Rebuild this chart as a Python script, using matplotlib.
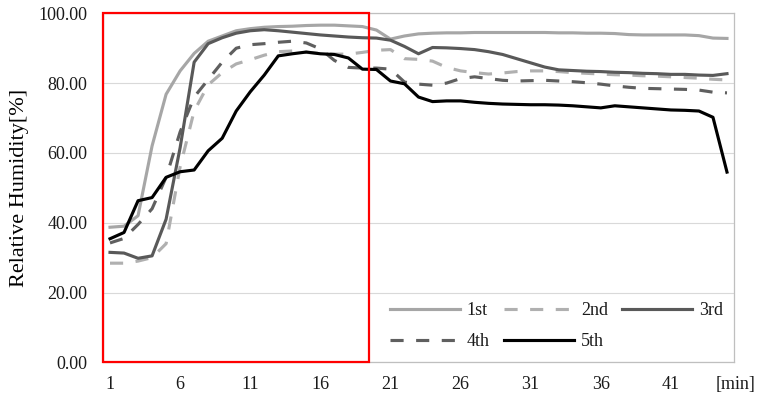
import matplotlib
matplotlib.use("Agg")
import matplotlib.pyplot as plt
from matplotlib.patches import Rectangle

# Relative humidity per minute for five runs
minutes = list(range(1, 46))

run_1st = [38.7, 39.0, 42.0, 62.0, 76.8, 83.5, 88.5, 92.0, 93.5, 95.0,
           95.6, 96.0, 96.2, 96.3, 96.5, 96.6, 96.6, 96.4, 96.2, 95.2,
           92.6, 93.5, 94.1, 94.3, 94.4, 94.4, 94.5, 94.5, 94.5, 94.5,
           94.5, 94.5, 94.4, 94.4, 94.3, 94.3, 94.2, 93.9, 93.8, 93.8,
           93.8, 93.8, 93.6, 92.9, 92.8]
run_2nd = [28.4, 28.4, 29.0, 30.0, 34.0, 56.0, 72.0, 79.5, 83.0, 85.5,
           86.7, 88.0, 89.0, 89.2, 88.8, 88.5, 88.3, 88.3, 88.8, 89.4,
           89.6, 87.0, 86.8, 86.3, 84.5, 83.5, 83.0, 82.6, 82.9, 83.3,
           83.5, 83.5, 83.3, 83.0, 82.8, 82.6, 82.4, 82.3, 82.1, 82.0,
           81.8, 81.6, 81.4, 81.1, 80.9]
run_3rd = [31.5, 31.3, 29.8, 30.5, 41.0, 61.5, 86.0, 91.3, 93.0, 94.3,
           95.0, 95.3, 95.0, 94.6, 94.2, 93.8, 93.5, 93.2, 93.0, 92.9,
           92.3, 90.5, 88.4, 90.2, 90.1, 89.9, 89.6, 89.0, 88.2, 87.0,
           85.8, 84.6, 83.8, 83.6, 83.4, 83.3, 83.1, 83.0, 82.8, 82.7,
           82.5, 82.5, 82.3, 82.2, 82.7]
run_4th = [34.2, 35.5, 39.5, 44.0, 53.0, 66.0, 76.0, 81.0, 86.0, 90.0,
           91.0, 91.3, 91.7, 92.0, 91.5, 89.8, 86.5, 84.5, 84.3, 84.3,
           84.0, 80.3, 79.7, 79.4, 80.0, 81.3, 81.8, 81.3, 80.8, 80.6,
           80.7, 80.8, 80.6, 80.4, 80.1, 79.7, 79.2, 78.8, 78.5, 78.4,
           78.3, 78.2, 78.0, 77.4, 77.2]
run_5th = [35.4, 37.2, 46.3, 47.2, 53.0, 54.6, 55.1, 60.6, 64.2, 72.0,
           77.5, 82.3, 87.8, 88.4, 88.9, 88.4, 88.2, 87.2, 84.0, 83.9,
           80.6, 79.8, 76.0, 74.7, 74.9, 74.9, 74.5, 74.2, 74.0, 73.9,
           73.8, 73.8, 73.7, 73.5, 73.2, 72.9, 73.5, 73.2, 72.9, 72.6,
           72.3, 72.2, 72.0, 70.2, 54.5]

series_labels = ["1st", "2nd", "3rd", "4th", "5th"]
x_ticks = [1, 6, 11, 16, 21, 26, 31, 36, 41]
y_ticks = [0, 20, 40, 60, 80, 100]
highlight_range = (0.5, 19.5)

plt.rcParams["font.family"] = ["Liberation Serif", "DejaVu Serif"]

fig = plt.figure(figsize=(7.63, 3.98), dpi=100)
ax = fig.add_axes([103 / 763, 1 - 362.3 / 398, 631 / 763, 349 / 398])

styles = [
    dict(color="#A6A6A6", ls="-"),
    dict(color="#B0B0B0", ls=(0, (4.2, 4.0))),
    dict(color="#595959", ls="-"),
    dict(color="#5F5F5F", ls=(0, (4.2, 4.0))),
    dict(color="#000000", ls="-"),
]
handles = []
for vals, lab, st in zip([run_1st, run_2nd, run_3rd, run_4th, run_5th],
                         series_labels, styles):
    h, = ax.plot(minutes, vals, lw=2.25, color=st["color"], linestyle=st["ls"],
                 label=lab, solid_joinstyle="round")
    handles.append(h)

ax.set_xlim(0.5, 45.5)
ax.set_ylim(0, 100)
ax.set_xticks(x_ticks)
ax.set_yticks(y_ticks)
ax.set_yticklabels([f"{v:.2f}" for v in y_ticks])
ax.tick_params(axis="both", length=0, labelsize=13, colors="#1A1A1A")
ax.tick_params(axis="y", pad=11)
ax.tick_params(axis="x", pad=10)
ax.grid(axis="y", color="#D9D9D9", lw=0.8)
ax.set_axisbelow(True)
for sp in ax.spines.values():
    sp.set_color("#BFBFBF")
    sp.set_linewidth(0.9)

ax.set_ylabel("Relative Humidity[%]", fontsize=16)
ax.yaxis.set_label_coords(-0.118, 0.5)

ax.annotate("[min]", xy=(1, 0), xycoords="axes fraction",
            xytext=(1, -10), textcoords="offset points",
            ha="center", va="top", fontsize=13, color="#1A1A1A")

# Highlighted interval
ax.add_patch(Rectangle((highlight_range[0], 0), highlight_range[1] - highlight_range[0], 100,
                       fill=False, edgecolor="#FF0000", lw=1.6, zorder=10, clip_on=False))

order = [0, 3, 1, 4, 2]
leg = ax.legend([handles[i] for i in order], [series_labels[i] for i in order],
                ncol=3, loc="upper left",
                bbox_to_anchor=((390 - 103) / 631, (362.3 - 302) / 349),
                frameon=False, fontsize=13, handlelength=3.85, handletextpad=0.4,
                columnspacing=0.8, labelspacing=0.8, borderpad=0, borderaxespad=0)
for t in leg.get_texts():
    t.set_color("#1A1A1A")

fig.savefig("out.png", dpi=100)
